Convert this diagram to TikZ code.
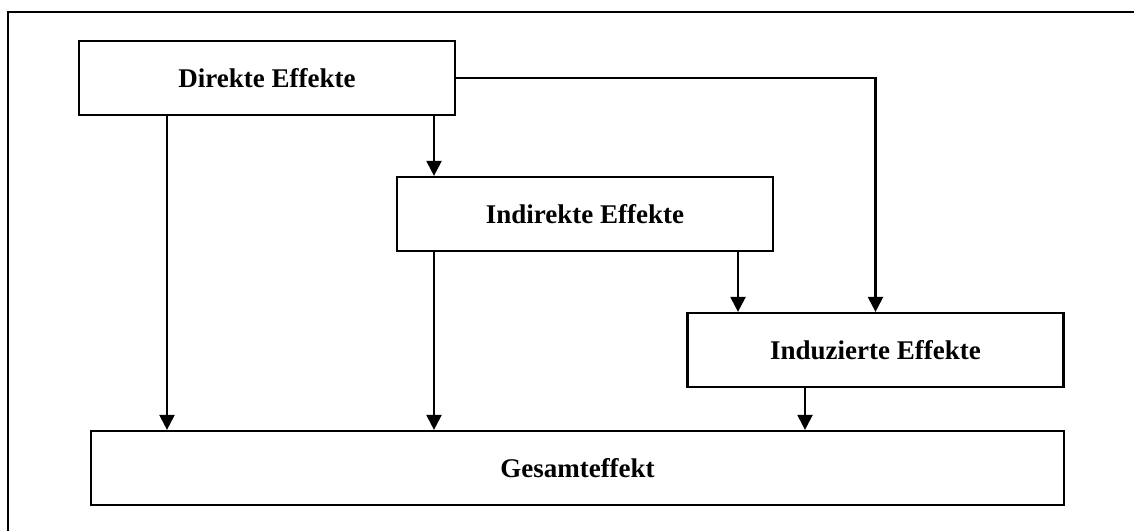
\documentclass[tikz,border=0pt]{standalone}
\usepackage{fontspec}
\setmainfont{Liberation Serif}
\usetikzlibrary{arrows.meta}
\begin{document}
\begin{tikzpicture}[x=1pt,y=-1pt,
  box/.style={draw=black,line width=2.2pt,rectangle,minimum width=376pt,minimum height=74pt,inner sep=0pt,font=\fontsize{27}{30}\selectfont\bfseries},
  arr/.style={line width=2.2pt,-{Triangle[width=15pt,length=15pt]}}]
\useasboundingbox (0,0) rectangle (1134,530);
\fill[white] (0,0) rectangle (1134,530);
\draw[line width=2.2pt] (8,545) -- (8,12) -- (1145,12);
\node[box] (D) at (267,78) {Direkte Effekte};
\node[box] (I) at (585,214) {Indirekte Effekte};
\node[box] (U) at (875.5,350) {Induzierte Effekte};
\node[box,minimum width=973pt] (G) at (577.5,468) {Gesamteffekt};
\coordinate (c1) at (167,0);
\coordinate (c2) at (434,0);
\coordinate (c3) at (738,0);
\coordinate (c4) at (805,0);
\draw[arr] (D.south -| c1) -- (G.north -| c1);
\draw[arr] (D.south -| c2) -- (I.north -| c2);
\draw[arr] (I.south -| c2) -- (G.north -| c2);
\draw[arr] (I.south -| c3) -- (U.north -| c3);
\draw[arr] (D.east) -| (U.north);
\draw[arr] (U.south -| c4) -- (G.north -| c4);
\end{tikzpicture}
\end{document}
